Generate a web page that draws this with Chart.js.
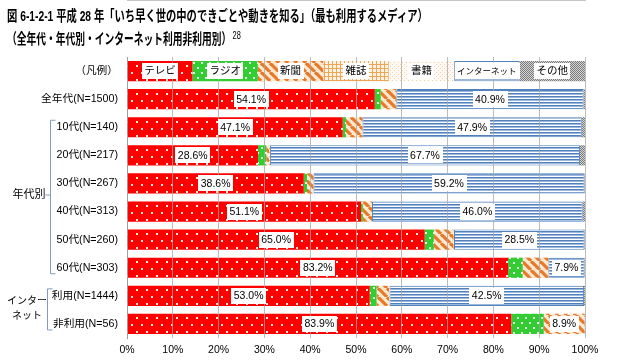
<!DOCTYPE html>
<html>
<head>
<meta charset="utf-8">
<script src="https://cdn.jsdelivr.net/npm/chart.js@4/dist/chart.umd.min.js"></script>
<style>
  body { margin: 0; background: #fff; }
  #wrap { position: relative; width: 620px; height: 361px; }
  #c { position: absolute; left: 0; top: 0; }
  .ttl { position: absolute; left: 7px; z-index: 2; font: bold 14.5px 'Liberation Sans', 'Noto Sans CJK JP', sans-serif;
         line-height: 14px; white-space: nowrap; transform-origin: 0 0; color: #000; }
  .ttl sup { font-size: 11px; font-weight: normal; vertical-align: 5px; margin-left: 2px; }
</style>
</head>
<body>
<div id="wrap">
  <div class="ttl" id="t1" style="top:9px">図 6-1-2-1 平成 28 年「いち早く世の中のできごとや動きを知る」（最も利用するメディア）</div>
  <div class="ttl" id="t2" style="top:28px">（全年代・年代別・インターネット利用非利用別）<sup>28</sup></div>
  <canvas id="c" width="620" height="361"></canvas>
</div>
<script>
// rows (first row is the legend drawn as a bar)
const categories = ['（凡例）', '全年代(N=1500)', '10代(N=140)', '20代(N=217)', '30代(N=267)', '40代(N=313)',
                    '50代(N=260)', '60代(N=303)', '利用(N=1444)', '非利用(N=56)'];
const seriesNames = ['テレビ', 'ラジオ', '新聞', '雑誌', '書籍', 'インターネット', 'その他'];
const legendShare = 100 / 7;

// percentages per row, 全年代 .. 非利用
const tv        = [54.1, 47.1, 28.6, 38.6, 51.1, 65.0, 83.2, 53.0, 83.9];
const radio     = [1.3, 0.7, 1.8, 0.7, 0.4, 2.0, 3.2, 1.5, 7.1];
const newspaper = [3.4, 3.6, 0.6, 1.4, 2.0, 4.3, 5.6, 2.7, 8.9];
const magazine  = [0.0, 0.0, 0.2, 0.0, 0.0, 0.1, 0.0, 0.1, 0.0];
const books     = [0.0, 0.0, 0.0, 0.0, 0.0, 0.0, 0.0, 0.0, 0.0];
const internet  = [40.9, 47.9, 67.7, 59.2, 46.0, 28.5, 7.9, 42.5, 0.0];
const other     = [0.3, 0.7, 1.1, 0.1, 0.5, 0.1, 0.1, 0.2, 0.1];

const xTicks = [0, 10, 20, 30, 40, 50, 60, 70, 80, 90, 100];

const groups = [
  { from: 2, to: 7, lines: ['年代別'] },
  { from: 8, to: 9, lines: ['インター', 'ネット'] }
];

// fit the title lines to the width they have in the original
const fit = (id, w) => {
  const el = document.getElementById(id);
  el.style.transform = `scaleX(${w / el.scrollWidth})`;
};
fit('t1', 421);
fit('t2', 234);

const canvas = document.getElementById('c');
const ctx = canvas.getContext('2d');

const makePattern = (w, h, draw) => {
  const tile = document.createElement('canvas');
  tile.width = w; tile.height = h;
  draw(tile.getContext('2d'), w, h);
  return ctx.createPattern(tile, 'repeat');
};

const patterns = [
  makePattern(10, 14, (g) => {          // テレビ
    g.fillStyle = '#ff0000'; g.fillRect(0, 0, 10, 14);
    g.fillStyle = 'rgba(255,255,255,0.9)';
    g.fillRect(1, 2, 2, 2); g.fillRect(6, 9, 2, 2);
  }),
  makePattern(8, 10, (g) => {           // ラジオ
    g.fillStyle = '#33cc33'; g.fillRect(0, 0, 8, 10);
    g.fillStyle = 'rgba(255,255,255,0.85)';
    g.fillRect(1, 2, 2, 2); g.fillRect(5, 7, 2, 2);
  }),
  makePattern(9, 9, (g) => {            // 新聞
    g.fillStyle = '#fde9d0'; g.fillRect(0, 0, 9, 9);
    g.strokeStyle = '#e8782a'; g.lineWidth = 3.2;
    for (let k = -1; k <= 1; k++) {
      g.beginPath(); g.moveTo(k * 9, 0); g.lineTo(k * 9 + 9, 9); g.stroke();
    }
  }),
  makePattern(4, 4, (g) => {            // 雑誌
    g.fillStyle = '#fef3e4'; g.fillRect(0, 0, 4, 4);
    g.fillStyle = '#f0a456'; g.fillRect(0, 0, 4, 1); g.fillRect(0, 0, 1, 4);
  }),
  makePattern(4, 4, (g) => {            // 書籍
    g.fillStyle = '#fffaf3'; g.fillRect(0, 0, 4, 4);
    g.fillStyle = '#f1cfa8'; g.fillRect(0, 0, 1, 1); g.fillRect(2, 2, 1, 1);
  }),
  makePattern(1, 3, (g) => {            // インターネット
    g.fillStyle = '#ffffff'; g.fillRect(0, 0, 1, 3);
    g.fillStyle = '#4f81bd'; g.fillRect(0, 0, 1, 1);
    g.fillStyle = '#9db8dc'; g.fillRect(0, 1, 1, 1);
  }),
  makePattern(2, 2, (g) => {            // その他
    g.fillStyle = '#d4d4d4'; g.fillRect(0, 0, 2, 2);
    g.fillStyle = '#7a7a7a'; g.fillRect(0, 0, 1, 1); g.fillRect(1, 1, 1, 1);
  })
];

const seriesValues = [tv, radio, newspaper, magazine, books, internet, other];
const borders = ['#ff0000', '#33cc33', '#f4b27a', '#f4c08a', '#f6dcc0', '#4f81bd', '#9a9a9a'];

const datasets = seriesNames.map((name, i) => ({
  label: name,
  data: [legendShare, ...seriesValues[i]],
  backgroundColor: patterns[i],
  borderColor: borders[i],
  borderWidth: i === 5 ? 1 : 0,
  borderSkipped: false
}));

const FONT = "'Liberation Sans', 'Noto Sans CJK JP', sans-serif";

const segLabels = {
  id: 'segLabels',
  afterDraw(chart) {
    const c = chart.ctx;
    c.save();
    c.textAlign = 'center';
    c.textBaseline = 'middle';
    chart.data.datasets.forEach((ds, i) => {
      chart.getDatasetMeta(i).data.forEach((bar, j) => {
        const v = ds.data[j];
        let text, size;
        if (j === 0) { text = ds.label; size = i === 5 ? 8.5 : 10.5; }
        else if (v >= 7.5) { text = v.toFixed(1) + '%'; size = 10.5; }
        else return;
        c.font = `${size}px ${FONT}`;
        const w = c.measureText(text).width + 5;
        const cx = (bar.x + bar.base) / 2;
        c.fillStyle = '#fff';
        c.fillRect(Math.round(cx - w / 2), Math.round(bar.y - 8), Math.round(w), 16);
        c.fillStyle = '#000';
        c.fillText(text, cx, bar.y + 0.5);
      });
    });
    c.restore();
  }
};

const groupLabels = {
  id: 'groupLabels',
  afterDraw(chart) {
    const c = chart.ctx;
    const y = chart.scales.y;
    c.save();
    c.strokeStyle = '#7f9cc0';
    c.lineWidth = 1;
    c.fillStyle = '#000';
    c.font = `11px ${FONT}`;
    c.textBaseline = 'middle';
    groups.forEach((gr, k) => {
      const top = y.getPixelForValue(gr.from) - 7;
      const bottom = y.getPixelForValue(gr.to) + 6;
      const bx = k === 0 ? 50.5 : 47.5;
      c.beginPath();
      c.moveTo(bx + 5, top); c.lineTo(bx, top); c.lineTo(bx, bottom); c.lineTo(bx + 5, bottom);
      c.stroke();
      if (gr.lines.length === 1) {
        const mid = (top + bottom) / 2 - 2;
        c.beginPath(); c.moveTo(bx - 5, mid); c.lineTo(bx, mid); c.stroke();
        c.textAlign = 'right';
        c.fillText(gr.lines[0], bx - 5, mid);
      } else {
        c.textAlign = 'center';
        c.font = `10px ${FONT}`;
        c.fillText(gr.lines[0], 27, top + 12);
        c.fillText(gr.lines[1], 27, top + 27);
      }
    });
    c.restore();
  }
};

new Chart(canvas, {
  type: 'bar',
  data: { labels: categories, datasets },
  options: {
    indexAxis: 'y',
    responsive: false,
    animation: false,
    devicePixelRatio: 1,
    layout: { padding: { top: 57, right: 35, bottom: 0, left: 0 } },
    datasets: { bar: { categoryPercentage: 1, barPercentage: 0.72 } },
    plugins: { legend: { display: false }, tooltip: { enabled: false } },
    scales: {
      x: {
        stacked: true, min: 0, max: 100,
        afterBuildTicks: (s) => { s.ticks = xTicks.map(v => ({ value: v })); },
        afterFit: (s) => { s.height = 23; },
        ticks: { callback: (v) => v + '%', color: '#000', padding: 6, font: { family: FONT, size: 10.5 } },
        grid: { color: 'rgba(165,165,165,0.75)', drawTicks: false, z: 1 },
        border: { color: '#8c8c8c' }
      },
      y: {
        stacked: true,
        afterFit: (s) => { s.width = 127; },
        ticks: { color: '#000', padding: 9, font: { family: FONT, size: 10.7 } },
        grid: { display: false, drawTicks: false },
        border: { color: '#8c8c8c' }
      }
    }
  },
  plugins: [segLabels, groupLabels]
});
</script>
</body>
</html>
